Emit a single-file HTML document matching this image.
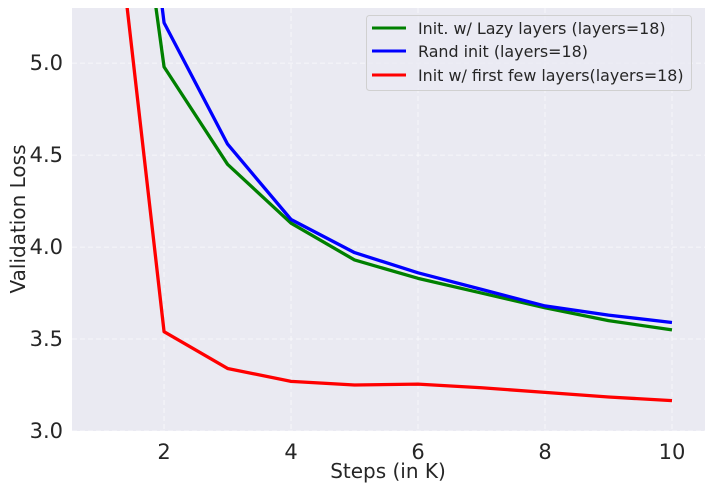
<!DOCTYPE html>
<html><head><meta charset="utf-8"><style>
html,body{margin:0;padding:0;background:#fff;}
svg{display:block;font-family:"DejaVu Sans","Liberation Sans",sans-serif;}
</style></head><body>
<svg id="chart" width="708" height="491">
<defs><clipPath id="clip"><rect x="72" y="8" width="633" height="423"/></clipPath></defs>
<rect x="72" y="8" width="633" height="423" fill="#eaeaf2"/>
<g id="grid"></g><g id="lines" clip-path="url(#clip)"></g><g id="ticks"></g>
<text x="388" y="478" font-size="20" fill="#262626" text-anchor="middle">Steps (in K)</text>
<text transform="translate(25,219) rotate(-90)" font-size="20" fill="#262626" text-anchor="middle">Validation Loss</text>
<g>
<rect x="366.5" y="15.5" width="325" height="75" rx="3" fill="#eaeaf2" fill-opacity="0.8" stroke="#d0d0d0"/>
<line x1="372" y1="28" x2="406" y2="28" stroke="#008000" stroke-width="3"/>
<text x="418" y="34" font-size="15.9" fill="#262626">Init. w/ Lazy layers (layers=18)</text>
<line x1="372" y1="51" x2="406" y2="51" stroke="#0000ff" stroke-width="3"/>
<text x="418" y="57" font-size="15.9" fill="#262626">Rand init (layers=18)</text>
<line x1="372" y1="75" x2="406" y2="75" stroke="#ff0000" stroke-width="3"/>
<text x="418" y="81" font-size="15.9" fill="#262626">Init w/ first few layers(layers=18)</text>
</g>
</svg>
<script>
const steps = [1,2,3,4,5,6,7,8,9,10];
const lazyLoss = [7.5,4.98,4.45,4.13,3.93,3.83,3.75,3.67,3.60,3.55];
const randLoss = [8.0,5.22,4.56,4.15,3.97,3.86,3.77,3.68,3.63,3.59];
const firstFewLoss = [6.57,3.54,3.34,3.27,3.25,3.255,3.235,3.21,3.185,3.165];
const xTicks = [2,4,6,8,10];
const yTicks = [3.0,3.5,4.0,4.5,5.0];

const NS = "http://www.w3.org/2000/svg";
const X0=72, X1=705, Y0=431, Y1=8;
const xMin=0.55, xMax=10.52, yMin=3.0, yMax=5.30;
const xs = v => X0 + (v-xMin)/(xMax-xMin)*(X1-X0);
const ys = v => Y0 - (v-yMin)/(yMax-yMin)*(Y0-Y1);
function mk(tag, attrs, parent){const e=document.createElementNS(NS,tag);for(const k in attrs)e.setAttribute(k,attrs[k]);parent.appendChild(e);return e;}
const grid=document.getElementById('grid'), ticks=document.getElementById('ticks'), lines=document.getElementById('lines');
xTicks.forEach(t=>{
  const g=mk('line',{x1:xs(t),x2:xs(t),y1:Y1,y2:Y0,stroke:'#fff','stroke-opacity':0.6,'stroke-dasharray':'5,3','stroke-width':1},grid);
  
  
  const l=mk('text',{x:xs(t),y:Y0+28,'font-size':21,fill:'#262626','text-anchor':'middle'},ticks);
  l.textContent=t;
  
  
});
yTicks.forEach(t=>{
  const g=mk('line',{x1:X0,x2:X1,y1:ys(t),y2:ys(t),stroke:'#fff','stroke-opacity':0.6,'stroke-dasharray':'5,3','stroke-width':1},grid);
  
  
  const l=mk('text',{x:X0-9,y:ys(t)+7,'font-size':21,fill:'#262626','text-anchor':'end'},ticks);
  l.textContent=t.toFixed(1);
  
  
});
[[lazyLoss,'#008000','line-lazy-layers'],[randLoss,'#0000ff','line-rand-init'],[firstFewLoss,'#ff0000','line-first-few-layers']].forEach(([d,c,n])=>{
  const p=mk('polyline',{points:steps.map((s,i)=>xs(s)+','+ys(d[i])).join(' '),fill:'none',stroke:c,'stroke-width':3.3,'stroke-linejoin':'round'},lines);
  
  
});
</script>
</body></html>
